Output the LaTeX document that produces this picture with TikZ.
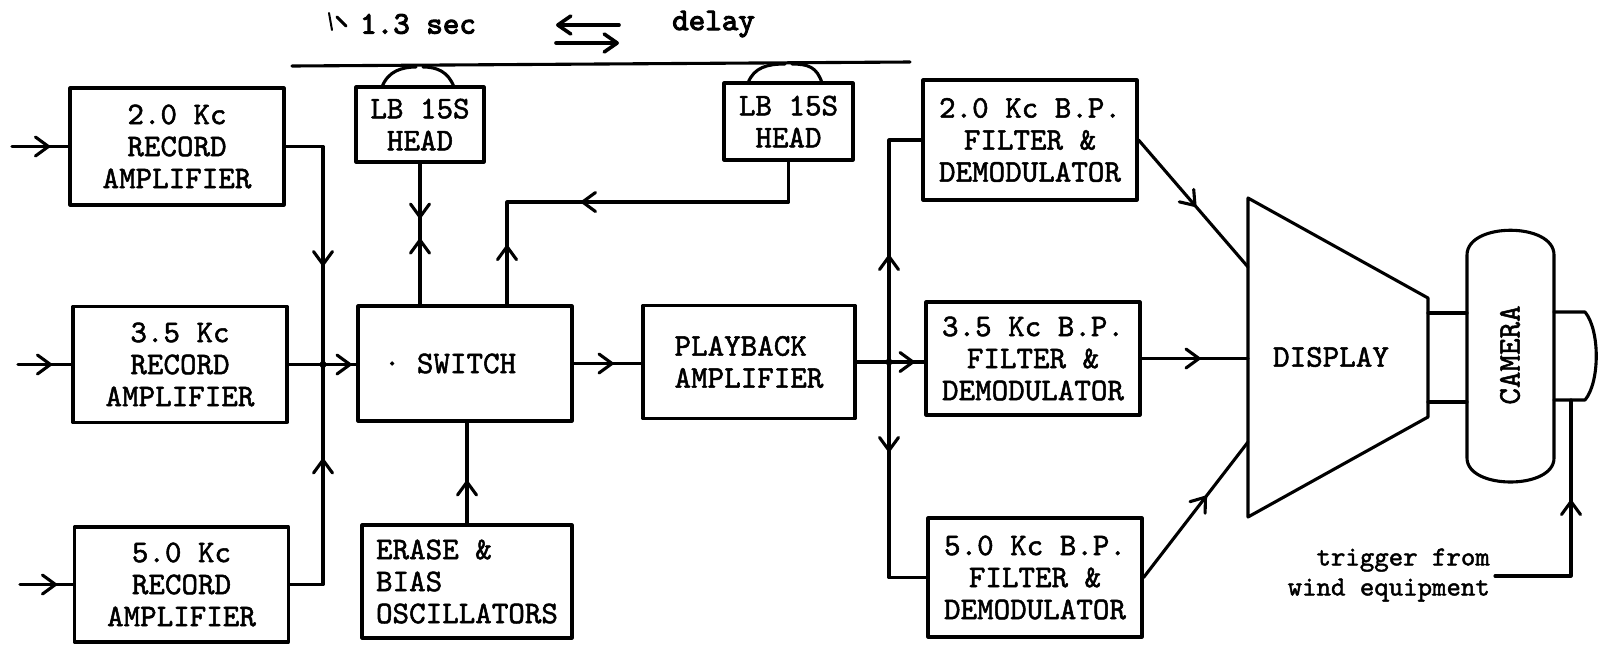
\documentclass[tikz,border=0pt]{standalone}
\usepackage{fontspec}
\usetikzlibrary{arrows.meta,decorations.markings,calc}
\newfontfamily\twf{lmmono10-regular}[Extension=.otf,FakeBold=1.6]
\newfontfamily\twb{lmmono10-regular}[Extension=.otf,FakeBold=3.2]
\newcommand\bxf{\fontsize{31.5}{32}\selectfont\twf}
\newcommand\tpf{\fontsize{31.5}{32}\selectfont\twb}
\newcommand\smf{\fontsize{27.5}{30}\selectfont\twf}
\tikzset{
  ln/.style={line width=3.1pt, line join=round, line cap=round},
  blk/.style={draw, ln, rectangle, inner sep=0pt, font=\bxf, minimum width=214pt},
  barb/.tip={Straight Barb[length=13pt,width=19pt,round]},
  tipat/.style={postaction={decorate,decoration={markings,mark=at position #1 with {\arrow{barb}}}}},
  rtipat/.style={postaction={decorate,decoration={markings,mark=at position #1 with {\arrowreversed{barb}}}}},
}
\begin{document}
\begin{tikzpicture}[x=1pt,y=-1pt]
\useasboundingbox (0,0) rectangle (1608,649);
\fill[white] (0,0) rectangle (1608,649);

% ---- record amplifiers
\node[blk,align=center,minimum height=117pt] (a1) at (177,146.5) {2.0 Kc\\RECORD\\AMPLIFIER};
\node[blk,align=center,minimum height=116pt] (a2) at (180,364.5) {3.5 Kc\\RECORD\\AMPLIFIER};
\node[blk,align=center,minimum height=115pt] (a3) at (181.5,584.5) {5.0 Kc\\RECORD\\AMPLIFIER};

% ---- switch, erase, playback
\node[blk,minimum height=115pt] (sw) at (465,363.5) {\hspace*{-30pt}\textperiodcentered\ SWITCH};
\node[blk,align=left,minimum width=210pt,minimum height=113pt] (er) at (467,581.5) {ERASE \&\\BIAS\\OSCILLATORS};
\node[blk,align=left,minimum width=212pt,minimum height=113pt] (pb) at (749,362) {PLAYBACK\\AMPLIFIER};

% ---- heads
\node[blk,align=center,minimum width=128pt,minimum height=75pt] (h1) at (420,124.5) {LB 15S\\HEAD};
\node[blk,align=center,minimum width=129pt,minimum height=77pt] (h2) at (788.5,121.5) {LB 15S\\HEAD};

% ---- filters
\node[blk,align=center,minimum height=120pt] (f1) at (1030,140) {2.0 Kc B.P.\\FILTER \&\\DEMODULATOR};
\node[blk,align=center,minimum height=113pt] (f2) at (1033,358.5) {3.5 Kc B.P.\\FILTER \&\\DEMODULATOR};
\node[blk,align=center,minimum height=119pt] (f3) at (1035,577.5) {5.0 Kc B.P.\\FILTER \&\\DEMODULATOR};

% ---- tape / delay line
\coordinate (tl) at (292,66);
\coordinate (tr) at (910,62);
\draw[ln] (tl) -- (tr);
\draw[ln] (382,87) .. controls (388,71) and (402,67) .. (416,67);
\draw[ln] (423,67) .. controls (436,67) and (448,71) .. (454,87);
\draw[ln] (748,83) .. controls (754,67) and (768,64) .. (785,64);
\draw[ln] (792,64) .. controls (808,64) and (817,67) .. (822,83);

% ---- top labels
\draw[line width=2pt,line cap=round] (329,13) -- (332,30);
\draw[line width=3pt,line cap=round] (337,17) -- (346,26);
\node[font=\tpf,anchor=west,inner sep=0pt] (tsec) at (360,24) {1.3 sec};
\node[font=\tpf,anchor=west,inner sep=0pt] (tdel) at (672,24) {delay};
\coordinate (ar1) at (619,25);
\coordinate (al1) at (556,25);
\coordinate (al2) at (556,43);
\coordinate (ar2) at (619,43);
\draw[line width=3.6pt,line cap=round,-{Straight Barb[length=13pt,width=18pt,round]}] (ar1) -- (al1);
\draw[line width=3.6pt,line cap=round,-{Straight Barb[length=13pt,width=18pt,round]}] (al2) -- (ar2);

% ---- inputs
\coordinate (in1) at (12,146.5);
\coordinate (in2) at (18,364.5);
\coordinate (in3) at (20,584.5);
\draw[ln,tipat=38pt] (in1) -- (in1 -| a1.west);
\draw[ln,tipat=34pt] (in2) -- (in2 -| a2.west);
\draw[ln,tipat=37pt] (in3) -- (in3 -| a3.west);

% ---- record bus
\coordinate (j1) at (323,364.5);
\draw[ln,tipat=157pt] (a1.east) -| (j1);
\draw[ln,tipat=159pt] (a3.east) -| (j1);
\draw[ln,tipat=63pt] (a2.east) -- (a2.east -| sw.west);
\fill (j1) circle (3.5pt);

% ---- heads to switch
\draw[ln,tipat=55pt,rtipat=75pt] (h1.south) -- (h1.south |- sw.north);
\coordinate (c2) at (507,202);
\draw[ln,tipat=248pt,rtipat=365pt] (h2.south) |- (c2) -- (c2 |- sw.north);

% ---- erase to switch, switch to playback
\draw[ln,tipat=43pt] (er.north) -- (er.north |- sw.south);
\draw[ln,tipat=40pt] (sw.east) -- (sw.east -| pb.west);

% ---- distribution to filters
\coordinate (j2) at (889,362);
\draw[ln,tipat=58pt] (pb.east) -- (pb.east -| f2.west);
\draw[ln,tipat=107pt] (j2) |- (f1.west);
\draw[ln,tipat=90pt] (j2) |- (f3.west);
\fill (j2) circle (3.5pt);

% ---- display
\coordinate (d1) at (1248,267);
\coordinate (d2) at (1248,358.5);
\coordinate (d3) at (1248,442);
\draw[ln] (1248,198) -- (1428,298) -- (1428,417) -- (1248,517) -- cycle;
\node[font=\bxf] (disp) at (1331,357) {DISPLAY};
\draw[ln,tipat=88pt] (f1.east) -- (d1);
\draw[ln,tipat=59pt] (f2.east) -- (d2);
\draw[ln,tipat=103pt] (f3.east) -- (d3);

% ---- neck, camera, lens
\draw[ln] (1428,313) -- (1467,313);
\draw[ln] (1428,402) -- (1467,402);
\draw[ln] (1467,458) -- (1467,255) .. controls (1467,222) and (1554,222) .. (1554,255)
  -- (1554,458) .. controls (1554,490) and (1467,490) .. (1467,458) -- cycle;
\node[font=\bxf,rotate=90] (cam) at (1510,355) {CAMERA};
\draw[ln] (1554,312) -- (1585,312) .. controls (1600,330) and (1600,382) .. (1585,400) -- (1554,400);

% ---- trigger
\coordinate (lensb) at (1571,400);
\coordinate (tg) at (1495,576);
\draw[ln,tipat=152pt] (tg) -- (tg -| lensb) -- (lensb);
\node[font=\smf,align=right,anchor=east,inner sep=0pt] (tt) at (1490,575) {trigger from\\wind equipment};
\end{tikzpicture}
\end{document}
